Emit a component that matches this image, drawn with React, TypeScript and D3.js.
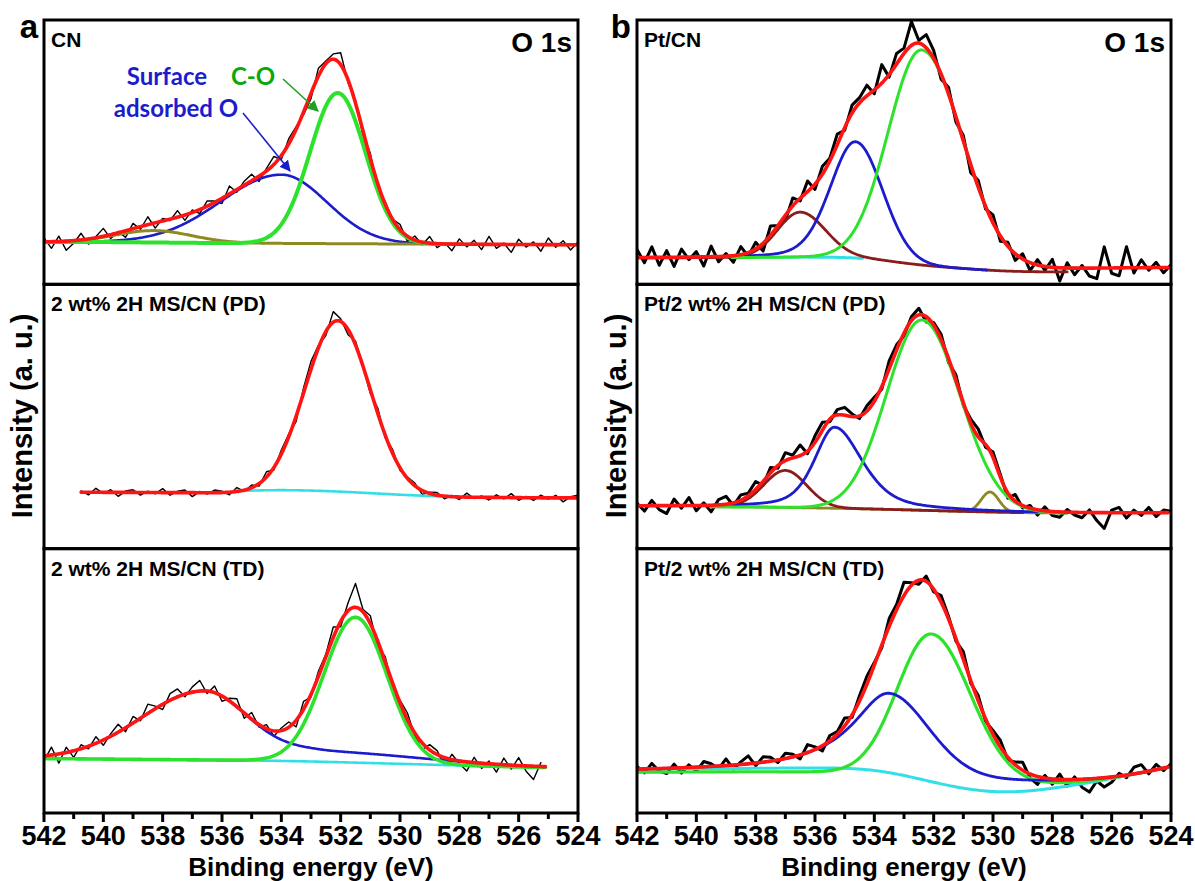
import React from 'react';
import * as d3 from 'd3';

// ---------------- data ----------------
// Binding energy axis
const majorTicks = [542, 540, 538, 536, 534, 532, 530, 528, 526, 524];
const minorTicks = [541, 539, 537, 535, 533, 531, 529, 527, 525];
// Background knots are given at 542, 541, ..., 524 eV (19 values, % of sub-plot height)
const knotE = [542, 541, 540, 539, 538, 537, 536, 535, 534, 533, 532, 531, 530, 529, 528, 527, 526, 525, 524];

const panelLetters = ['a', 'b'];
const sampleLabelsA = ['CN', '2 wt% 2H MS/CN (PD)', '2 wt% 2H MS/CN (TD)'];
const sampleLabelsB = ['Pt/CN', 'Pt/2 wt% 2H MS/CN (PD)', 'Pt/2 wt% 2H MS/CN (TD)'];

// peak = [centre eV, FWHM high-BE side, FWHM low-BE side, height %, eta high side, eta low side]
// ---- a / CN
const aCN_bg = [16, 16, 16, 15.9, 15.8, 15.7, 15.6, 15.5, 15.5, 15.4, 15.4, 15.3, 15.3, 15.2, 15.2, 15.1, 15.1, 15, 15];
const aCN_olive = [538.3, 3.0, 3.0, 4.5, 0, 0];
const aCN_blue = [534.0, 4.8, 3.6, 26, 0, 0];
const aCN_green = [532.1, 2.2, 2.2, 57, 0, 0];
const aCN_raw = [1.5, -2.5, 2, -3.5, -1, 2.5, -2, 0.5, 3, -1.5, 0.5, -2.5, 2, -1, 3, -2, 1, -0.5, 2.5, -2, 1, -1.5, 2, 0.5, -2, 3, -1, 1.5, 2.5, -2, 1, 3, -1.5, 2, 1, -1, -2, 3, 1, 2, 4.5, -1, 1, -1.5, 2, -2.5, 1, 0, 2, -2, 1.5, -1, 2.5, -1.5, 0.5, -2.5, 2, -1, 1.5, -2, 3, -1.5, 0.5, -3, 2, -1, 1, -2.5, 2.5, -1, 1.5, -2, 1];
// ---- a / PD
const aPD_bg = [21.4, 21.4, 21.3, 21.3, 21.2, 21.2, 21.1, 21, 20.8, 20.5, 20.2, 20, 19.8, 19.6, 19.5, 19.4, 19.3, 19.2, 19.2];
const aPD_cyan = [21.4, 21.4, 21.3, 21.3, 21.2, 21.3, 21.6, 22, 22.2, 22, 21.6, 21, 20.4, 19.9, 19.6, 19.4, 19.3, 19.2, 19.2];
const aPD_main = [532.1, 2.6, 2.6, 66, 0, 0];
const aPD_raw = [0.5, -1, 1.5, -0.5, 1, -1.5, 0.5, 1, -1, 0.5, -0.5, 1.5, -1, 0.5, 1, -1.5, 0.5, -0.5, 1, 0.5, -1, 1.5, -0.5, 1, -1, 2, -1, 1.5, 1, -2, 2, 3, 1, -1.5, 4, 1, -2, 1.5, 0, -1.5, 2, -1, 1.5, -1, 0.5, 1, -1.5, 0.5, 1, -1, 0.5, -1, 1.5, -0.5, 0.5, -1, 1, -0.5, 1.5, -1, 0.5, -1, 1, -0.5, 1, -1.5, 0.5, 1];
// ---- a / TD
const aTD_bg = [20.6, 20.5, 20.4, 20.3, 20.2, 20.1, 20, 19.9, 19.7, 19.5, 19.2, 18.9, 18.6, 18.3, 18, 17.7, 17.4, 17.2, 17];
const aTD_blue = [536.6, 5.0, 3.4, 26, 0, 0];
const aTD_tail = [532.8, 3.5, 8, 4, 0, 0];
const aTD_green = [531.5, 2.5, 2.5, 55, 0, 0];
const aTD_raw = [-2, 3, -3.5, 2, -2.5, 1.5, -1, 2.5, -2, 1, 3, -1.5, 2.5, -1, 3.5, 1, -2, 2.5, 3, -1, 2, 4, -1, 2.5, -2, 1, 3, -2, 2.5, -1, 1.5, -2, 1, 2, -2.5, 3, -1, 2, 1, 4, -2, 3, 9, 1, 3, -2, 2, -1.5, 1, 2.5, -1, -2.5, 2, 1.5, -3, 2, -1, -3.5, 2, -2, 1, -3, 2.5, -1.5, 3, -2, -5, 1.5];
// ---- b / Pt/CN
const bCN_bg = [10, 10, 10.1, 10.1, 10.2, 10.3, 10.3, 10.2, 9.6, 8.3, 7.2, 6.6, 6.2, 6, 6, 6.1, 6.2, 6.3, 6.4];
const bCN_brownBg = [10, 10, 10.1, 10.1, 10.2, 10.3, 10.3, 10.2, 9.6, 8.0, 6.8, 6.0, 5.2, 4.8, 4.7, 4.7, 4.8, 5, 5.2];
const bCN_brown = [536.5, 1.8, 2.0, 17, 0, 0];
const bCN_blue = [534.64, 2.0, 2.15, 44, 0.2, 0];
const bCN_green = [532.4, 2.65, 3.2, 81, 0, 0];
const bCN_raw = [3, -2, 4, -3, 2.5, -3.5, 3, -1, 2, -3.5, 4, -2, 1, -2.5, 3, -1.5, 2.5, -3, 3.5, 0, -2, 3, -1, 4, -2, 3, 1, 4, -1, 3, 2, 4, -1.5, 7, -1, 4, 2, 9, 1, 5, 3, -2, 2.5, -2, 2, -3, 2.5, -1, 3, -2, 1.5, -2.5, 2, -3, 2, -1.5, 3, -5, 2, -2.5, 1, -3, -4, 8, -2, -3, 8, -2, 3, -1, 2, -2, 1];
// ---- b / Pt PD
const bPD_bg = [16, 16, 15.9, 15.8, 15.8, 15.6, 15.4, 15.2, 15, 14.7, 14.4, 14.1, 13.8, 13.6, 13.5, 13.4, 13.4, 13.4, 13.5];
const bPD_brown = [537.0, 1.7, 1.7, 14, 0, 0];
const bPD_blue = [535.34, 1.6, 2.2, 30.7, 0.5, 0.5];
const bPD_green = [532.4, 2.8, 3.05, 72, 0, 0];
const bPD_olive = [530.1, 0.7, 0.7, 7.6, 0, 0];
const bPD_raw = [1, -2, 2, -1.5, -3, 2.5, -1, 3, -2, 1, -2.5, 2, 3, -1, 2, 1, 3, -1.5, 2, -1, 3, 1, 4, -1, 2.5, 3, -1, 2, 3, 1, -1, 2, 1.5, -1, 3, 2, -1, 1.5, 2.5, -2, 1, 2, -1.5, 2, -1, 1.5, 3, -1, 2, 1, -2, 2.5, -1, 1, -2, 1.5, -1.5, -2, 1, -1, -2, 1, -3, -6, 1, 2, -2, 1, -1, 2, -1.5, 1, 0.5];
// ---- b / Pt TD
const bTD_bg = [15.7, 15.7, 15.8, 15.8, 15.8, 15.8, 15.7, 15.4, 14.8, 13.8, 12.9, 12.3, 12, 11.9, 12, 12.4, 13.3, 15, 17.5];
const bTD_greenBg = [15.5, 15.5, 15.5, 15.6, 15.6, 15.6, 15.5, 15.3, 14.8, 13.8, 12.6, 11.6, 11, 10.8, 11, 11.8, 13.2, 15.2, 17.5];
const bTD_cyan = [16.6, 16.7, 16.8, 16.8, 16.9, 17, 17.1, 17, 16.3, 14.3, 11.6, 9.2, 7.9, 8, 9.3, 11, 13, 15.2, 17.6];
const bTD_blue = [533.5, 3.0, 3.2, 31, 1.0, 0.15];
const bTD_green = [532.07, 2.7, 3.1, 55, 0, 0];
const bTD_raw = [1, -1.5, 2, -1, -2, 1.5, -2, 1, -1.5, 2, 1, -1, 2.5, -1.5, 1, 3, -1, 2, 1.5, -1, 2, 1, -1.5, 3, 1, -2, 2, 1, 3, -1, 2, 3, 1, -1, 3, 2, 5, 1, -1.5, 2, -1, 2.5, 1, -1, 3, -1, 2, -1, 1.5, 2.5, -1, 1, 3, -1.5, -3, 1, -2, 2, -2.5, 1, -3, -5, -1, -3.5, -2, 1, -1, 2.5, 3, -1, 2, -1, 1];

// ---------------- styles ----------------
const RED = '#ff1414';
const GREEN = '#2de22d';
const BLUE = '#1c1ccc';
const BROWN = '#8a1c1c';
const OLIVE = '#8e8a22';
const CYAN = '#33dfe6';
const FONT = '"Liberation Sans", Arial, Helvetica, sans-serif';
const SVG_W = 1195;
const SVG_H = 881;

function bgAt(bg, E) {
  const t = (knotE[0] - E) / (knotE[0] - knotE[knotE.length - 1]);
  return d3.interpolateBasis(bg)(Math.max(0, Math.min(1, t)));
}
function peakAt(p, E) {
  const c = p[0], wL = p[1], wR = p[2], h = p[3], eL = p[4], eR = p[5];
  const d = E - c;
  const w = d >= 0 ? wL : wR;
  const eta = d >= 0 ? eL : eR;
  const g = Math.exp((-4 * Math.LN2 * d * d) / (w * w));
  const l = 1 / (1 + (4 * d * d) / (w * w));
  return h * ((1 - eta) * g + eta * l);
}
function curveAt(peaks, bg, E) {
  return bgAt(bg, E) + d3.sum(peaks, (p) => peakAt(p, E));
}
function sampleE(from, to) {
  const n = Math.round((from - to) / 0.04);
  const out = [];
  for (let i = 0; i <= n; i++) out.push(from - ((from - to) * i) / n);
  return out;
}

const subplotsA = [
  {
    label: sampleLabelsA[0],
    raw: { start: 542, resid: aCN_raw, w: 1.4 },
    fit: { peaks: [aCN_olive, aCN_blue, aCN_green], bg: aCN_bg, from: 542, to: 524, w: 3.6 },
    bands: [],
    comps: [
      { peaks: [aCN_blue], bg: aCN_bg, color: BLUE, w: 2.6, from: 542, to: 524 },
      { peaks: [aCN_olive], bg: aCN_bg, color: OLIVE, w: 3, from: 542, to: 524 },
      { peaks: [aCN_green], bg: aCN_bg, color: GREEN, w: 4, from: 542, to: 528.5 },
    ],
  },
  {
    label: sampleLabelsA[1],
    raw: { start: 540.75, resid: aPD_raw, w: 1.4 },
    fit: { peaks: [aPD_main], bg: aPD_bg, from: 540.75, to: 524, w: 3.6 },
    bands: [{ peaks: [], bg: aPD_cyan, color: CYAN, w: 2.6, from: 535.6, to: 528.6 }],
    comps: [],
  },
  {
    label: sampleLabelsA[2],
    raw: { start: 542, resid: aTD_raw, w: 1.4 },
    fit: { peaks: [aTD_blue, aTD_tail, aTD_green], bg: aTD_bg, from: 542, to: 525.1, w: 3.6 },
    bands: [{ peaks: [], bg: aTD_bg, color: CYAN, w: 2.6, from: 542, to: 525.1 }],
    comps: [
      { peaks: [aTD_blue, aTD_tail], bg: aTD_bg, color: BLUE, w: 2.6, from: 542, to: 525.1 },
      { peaks: [aTD_green], bg: aTD_bg, color: GREEN, w: 3.6, from: 542, to: 525.1 },
    ],
  },
];

const subplotsB = [
  {
    label: sampleLabelsB[0],
    raw: { start: 542, resid: bCN_raw, w: 3 },
    fit: { peaks: [bCN_brown, bCN_blue, bCN_green], bg: bCN_bg, from: 542, to: 524.1, w: 3.6 },
    bands: [{ peaks: [], bg: bCN_bg, color: CYAN, w: 3, from: 538.8, to: 534.4 }],
    comps: [
      { peaks: [bCN_brown], bg: bCN_brownBg, color: BROWN, w: 2.8, from: 542, to: 527.5 },
      { peaks: [bCN_blue], bg: bCN_brownBg, color: BLUE, w: 2.8, from: 538.8, to: 530.2 },
      { peaks: [bCN_green], bg: bCN_bg, color: GREEN, w: 3, from: 538.8, to: 527 },
    ],
  },
  {
    label: sampleLabelsB[1],
    raw: { start: 542, resid: bPD_raw, w: 3 },
    fit: { peaks: [bPD_brown, bPD_blue, bPD_green, bPD_olive], bg: bPD_bg, from: 542, to: 524.1, w: 3.6 },
    bands: [],
    comps: [
      { peaks: [bPD_olive], bg: bPD_bg, color: OLIVE, w: 2.8, from: 539.5, to: 527.5 },
      { peaks: [bPD_brown], bg: bPD_bg, color: BROWN, w: 2.8, from: 539.5, to: 529 },
      { peaks: [bPD_blue], bg: bPD_bg, color: BLUE, w: 2.8, from: 539.5, to: 528.5 },
      { peaks: [bPD_green], bg: bPD_bg, color: GREEN, w: 3, from: 539.5, to: 527.5 },
    ],
  },
  {
    label: sampleLabelsB[2],
    raw: { start: 542, resid: bTD_raw, w: 3 },
    fit: { peaks: [bTD_blue, bTD_green], bg: bTD_bg, from: 542, to: 524.1, w: 3.6 },
    bands: [{ peaks: [], bg: bTD_cyan, color: CYAN, w: 3, from: 542, to: 524.1 }],
    comps: [
      { peaks: [bTD_green], bg: bTD_greenBg, color: GREEN, w: 3.2, from: 542, to: 524.1 },
      { peaks: [bTD_blue], bg: bTD_bg, color: BLUE, w: 2.8, from: 542, to: 524.1 },
    ],
  },
];

// ---------------- layout ----------------
const panels = [
  { x0: 44, x1: 578, subs: subplotsA, letter: panelLetters[0], ylabX: 32 },
  { x0: 637, x1: 1171, subs: subplotsB, letter: panelLetters[1], ylabX: 626 },
];
const TOP = 20;
const BOTTOM = 813;
const SUBH = (BOTTOM - TOP) / 3;

function Panel(props) {
  const p = props.p;
  const pi = props.pi;
  const x = d3.scaleLinear().domain([542, 524]).range([p.x0, p.x1]);
  return (
    <g>
      {p.subs.map((s, si) => {
        const yTop = TOP + si * SUBH;
        const y = d3.scaleLinear().domain([0, 100]).range([yTop + SUBH, yTop]);
        const line = d3
          .line()
          .x((d) => x(d[0]))
          .y((d) => y(d[1]));
        const mk = (l) => line(sampleE(l.from, l.to).map((E) => [E, curveAt(l.peaks, l.bg, E)]));
        const rawPts = s.raw.resid.map((r, i) => {
          const E = s.raw.start - i * 0.25;
          return [E, curveAt(s.fit.peaks, s.fit.bg, E) + r];
        });
        const fitPath = line(sampleE(s.fit.from, s.fit.to).map((E) => [E, curveAt(s.fit.peaks, s.fit.bg, E)]));
        const clipId = 'clip-' + pi + '-' + si;
        return (
          <g key={si}>
            <clipPath id={clipId}>
              <rect x={p.x0} y={yTop} width={p.x1 - p.x0} height={SUBH} />
            </clipPath>
            <g clipPath={'url(#' + clipId + ')'} fill="none" strokeLinejoin="round" strokeLinecap="round">
              <path d={line(rawPts) || ''} stroke="#000" strokeWidth={s.raw.w} />
              {s.bands.map((b, bi) => (
                <path key={'b' + bi} d={mk(b) || ''} stroke={b.color} strokeWidth={b.w} />
              ))}
              {s.comps.map((c, ci) => (
                <path key={'c' + ci} d={mk(c) || ''} stroke={c.color} strokeWidth={c.w} />
              ))}
              <path d={fitPath || ''} stroke={RED} strokeWidth={s.fit.w} />
            </g>
            <text x={p.x0 + 7} y={yTop + 27} fontFamily={FONT} fontWeight="bold" fontSize={21} fill="#000">
              {s.label}
            </text>
            <rect x={p.x0} y={yTop} width={p.x1 - p.x0} height={SUBH} fill="none" stroke="#000" strokeWidth={3} />
          </g>
        );
      })}
      {majorTicks.map((t) => (
        <g key={'M' + t}>
          <line x1={x(t)} x2={x(t)} y1={BOTTOM} y2={BOTTOM + 9} stroke="#000" strokeWidth={3} />
          <text x={x(t)} y={845} textAnchor="middle" fontFamily={FONT} fontWeight="bold" fontSize={27}>
            {t}
          </text>
        </g>
      ))}
      {minorTicks.map((t) => (
        <line key={'m' + t} x1={x(t)} x2={x(t)} y1={BOTTOM} y2={BOTTOM + 6} stroke="#000" strokeWidth={3} />
      ))}
      <text x={(p.x0 + p.x1) / 2} y={876} textAnchor="middle" fontFamily={FONT} fontWeight="bold" fontSize={26}>
        Binding energy (eV)
      </text>
      <text
        transform={'translate(' + p.ylabX + ',' + 416 + ') rotate(-90)'}
        textAnchor="middle"
        fontFamily={FONT}
        fontWeight="bold"
        fontSize={29}
      >
        Intensity (a. u.)
      </text>
      <text x={p.x0 - 6} y={38} textAnchor="end" fontFamily={FONT} fontWeight="bold" fontSize={33}>
        {p.letter}
      </text>
      <text x={p.x1 - 6} y={52} textAnchor="end" fontFamily={FONT} fontWeight="bold" fontSize={28}>
        O 1s
      </text>
    </g>
  );
}

export default function App() {
  return (
    <div style={{ position: 'absolute', left: 0, top: 0 }}>
      <svg width={SVG_W} height={SVG_H} viewBox={'0 0 ' + SVG_W + ' ' + SVG_H} style={{ display: 'block', background: '#fff' }}>
        <defs>
          <marker id="arrBlue" viewBox="0 0 10 10" refX="9" refY="5" markerWidth="7" markerHeight="7" orient="auto">
            <path d="M0,0 L10,5 L0,10 z" fill={BLUE} />
          </marker>
          <marker id="arrGreen" viewBox="0 0 10 10" refX="9" refY="5" markerWidth="7" markerHeight="7" orient="auto">
            <path d="M0,0 L10,5 L0,10 z" fill="#1fa01f" />
          </marker>
        </defs>
        {panels.map((p, i) => (
          <Panel key={i} p={p} pi={i} />
        ))}
        <g fontFamily="Lato, 'Open Sans', sans-serif" fontWeight="bold" fontSize={24}>
          <text x={167} y={85} textAnchor="middle" fill={BLUE}>Surface</text>
          <text x={176} y={117} textAnchor="middle" fill={BLUE}>adsorbed O</text>
          <text x={253} y={85} textAnchor="middle" fill="#0aa80a">C-O</text>
        </g>
        <line x1={243} y1={113} x2={290} y2={171} stroke={BLUE} strokeWidth={1.6} markerEnd="url(#arrBlue)" />
        <line x1={283} y1={79} x2={318} y2={111} stroke="#1fa01f" strokeWidth={1.6} markerEnd="url(#arrGreen)" />
      </svg>
    </div>
  );
}
